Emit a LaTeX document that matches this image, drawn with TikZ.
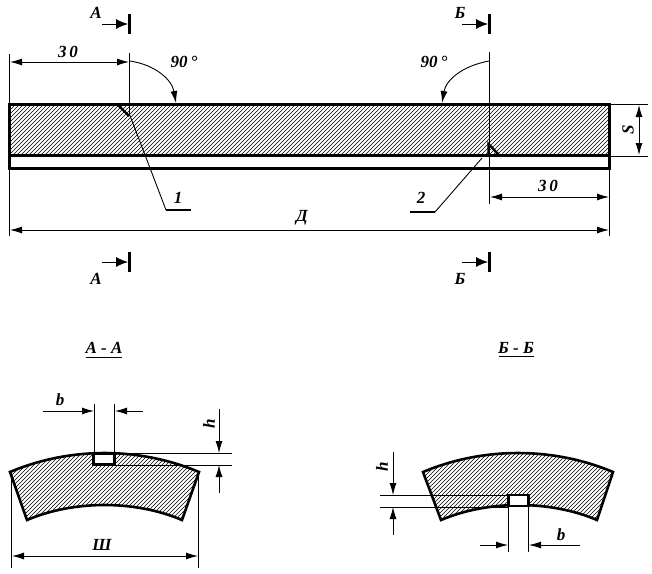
\documentclass[tikz,border=0pt]{standalone}
\usepackage{fontspec}
\setmainfont{Liberation Serif}
\usetikzlibrary{arrows.meta}
\tikzset{
  thinl/.style={line width=0.9pt,black},
  thick3/.style={line width=3pt,black},
  contour/.style={line width=2.6pt,black,line join=miter},
  hatchl/.style={line width=0.6pt,black},
  dim/.style={thinl,-{Latex[length=12pt,width=7pt]}},
  dimb/.style={thinl,{Latex[length=12pt,width=7pt]}-{Latex[length=12pt,width=7pt]}},
  secarrow/.style={thinl,-{Latex[length=12pt,width=10pt]}},
  lab/.style={inner sep=0pt,font=\bfseries\itshape\fontsize{17}{17}\selectfont},
}
\begin{document}
\begin{tikzpicture}[x=1pt,y=-1pt]
\useasboundingbox[fill=white] (0,0) rectangle (652,573);
% main bar hatch
\begin{scope}
\clip (9.5,104) rectangle (609,155.5);
\foreach \i in {0,4,...,680} {\draw[hatchl] (\i-60,156) -- (\i-8,104);}
\end{scope}
\draw[thick3] (9.5,104) rectangle (609,168);
\draw[thick3] (9.5,155.5) -- (609,155.5);
% section marks
\draw[thick3] (129.5,14) -- (129.5,34);
\draw[secarrow] (102,24) -- (128,24);
\node[lab] (aT) at (96,13) {А};
\draw[thick3] (129.5,252) -- (129.5,272);
\draw[secarrow] (102,262) -- (128,262);
\node[lab] (aB) at (96,279) {А};
\draw[thick3] (489,14) -- (489,34);
\draw[secarrow] (462,24) -- (488,24);
\node[lab] (bT) at (460,13) {Б};
\draw[thick3] (489,252) -- (489,272);
\draw[secarrow] (462,262) -- (488,262);
\node[lab] (bB) at (460,279) {Б};
% extension lines
\draw[thinl] (9.5,54) -- (9.5,236);
\draw[thinl] (609,168) -- (609,236);
\draw[thinl] (129.5,53) -- (129.5,113);
\draw[thinl] (489.5,52) -- (489.5,204);
\draw[thinl] (609,104) -- (648,104);
\draw[thinl] (609,156) -- (648,156);
% dimensions
\draw[dimb] (10,62) -- (129,62);
\node[lab] (d30a) at (68,52) {3\,0};
\draw[dimb] (10,230) -- (609,230);
\node[lab] (dD) at (302,218) {Д};
\draw[dimb] (490,197) -- (609,197);
\node[lab] (d30b) at (548,186) {3\,0};
\draw[dimb] (639,105) -- (639,155);
\node[lab,rotate=90] (dS) at (628,130) {S};
% angle arcs
\draw[dim] (130,61) .. controls (156,65) and (172,80) .. (176,103);
\draw[dim] (489,61) .. controls (462,66) and (446,80) .. (442,103);
\node[lab] (ang1) at (184,62) {90\,°};
\node[lab] (ang2) at (434,62) {90\,°};
% welds and leaders
\draw[thick3,line width=2.4pt] (118,105) -- (129,116);
\draw[thinl] (129,113) -- (166,210);
\draw[thick3,line width=2.4pt] (166,210) -- (191,210);
\node[lab] (n1) at (178,198) {1};
\draw[thick3,line width=2.4pt] (488.5,155) -- (488.5,144) -- (499,155);
\draw[thinl] (482,158) -- (435,212);
\draw[thick3,line width=2.4pt] (410,212) -- (435,212);
\node[lab] (n2) at (421,198) {2};
% section A-A
\node[lab] (tA) at (104,348) {А - А};
\draw[line width=1.8pt] (86,357.5) -- (122,357.5);
\begin{scope}
\clip (10,472) .. controls (70,446.7) and (139,446.7) .. (199,472) -- (182,520) .. controls (135,500) and (74,500) .. (27,520) -- cycle;
\foreach \i in {0,4,...,300} {\draw[hatchl] (\i-70,525) -- (\i+10,445);}
\end{scope}
\draw[contour] (10,472) .. controls (70,446.7) and (139,446.7) .. (199,472) -- (182,520) .. controls (135,500) and (74,500) .. (27,520) -- cycle;
\draw[thick3,fill=white,line width=2.4pt] (93.5,453.5) rectangle (114.5,464.5);
\draw[thinl] (94.5,404) -- (94.5,453);
\draw[thinl] (114.5,404) -- (114.5,453);
\draw[dim] (43,411) -- (94,411);
\draw[dim] (143,411) -- (115,411);
\node[lab] (bA) at (60,400) {b};
\draw[thinl] (114,453) -- (232,453);
\draw[thinl] (114,465) -- (232,465);
\draw[dim] (219,409) -- (219,453);
\draw[dim] (219,493) -- (219,465);
\node[lab,rotate=90] (hA) at (209,424) {h};
\draw[thinl] (11.5,474) -- (11.5,568);
\draw[thinl] (198.5,474) -- (198.5,568);
\draw[dimb] (12,556) -- (198,556);
\node[lab] (sA) at (102,545) {Ш};
% section B-B
\node[lab] (tB) at (516,348) {Б - Б};
\draw[line width=1.8pt] (499,356.5) -- (534,356.5);
\begin{scope}
\clip (423,472) .. controls (483,446.7) and (553,446.7) .. (613,472) -- (597,520) .. controls (550,500) and (488,500) .. (441,520) -- cycle;
\foreach \i in {0,4,...,300} {\draw[hatchl] (\i+340,525) -- (\i+420,445);}
\end{scope}
\draw[contour] (423,472) .. controls (483,446.7) and (553,446.7) .. (613,472) -- (597,520) .. controls (550,500) and (488,500) .. (441,520) -- cycle;
\draw[thinl] (380,495) -- (509,495);
\draw[thinl] (380,507) -- (509,507);
\draw[thick3,fill=white,line width=2.4pt] (508.5,495) rectangle (528.5,506);
\draw[thinl] (508.5,506) -- (508.5,552);
\draw[thinl] (528.5,506) -- (528.5,552);
\draw[dim] (480,545) -- (508,545);
\draw[dim] (580,545) -- (529,545);
\node[lab] (bB2) at (561,535) {b};
\draw[dim] (393,452) -- (393,495);
\draw[dim] (393,535) -- (393,507);
\node[lab,rotate=90] (hB) at (382,467) {h};
\end{tikzpicture}
\end{document}
